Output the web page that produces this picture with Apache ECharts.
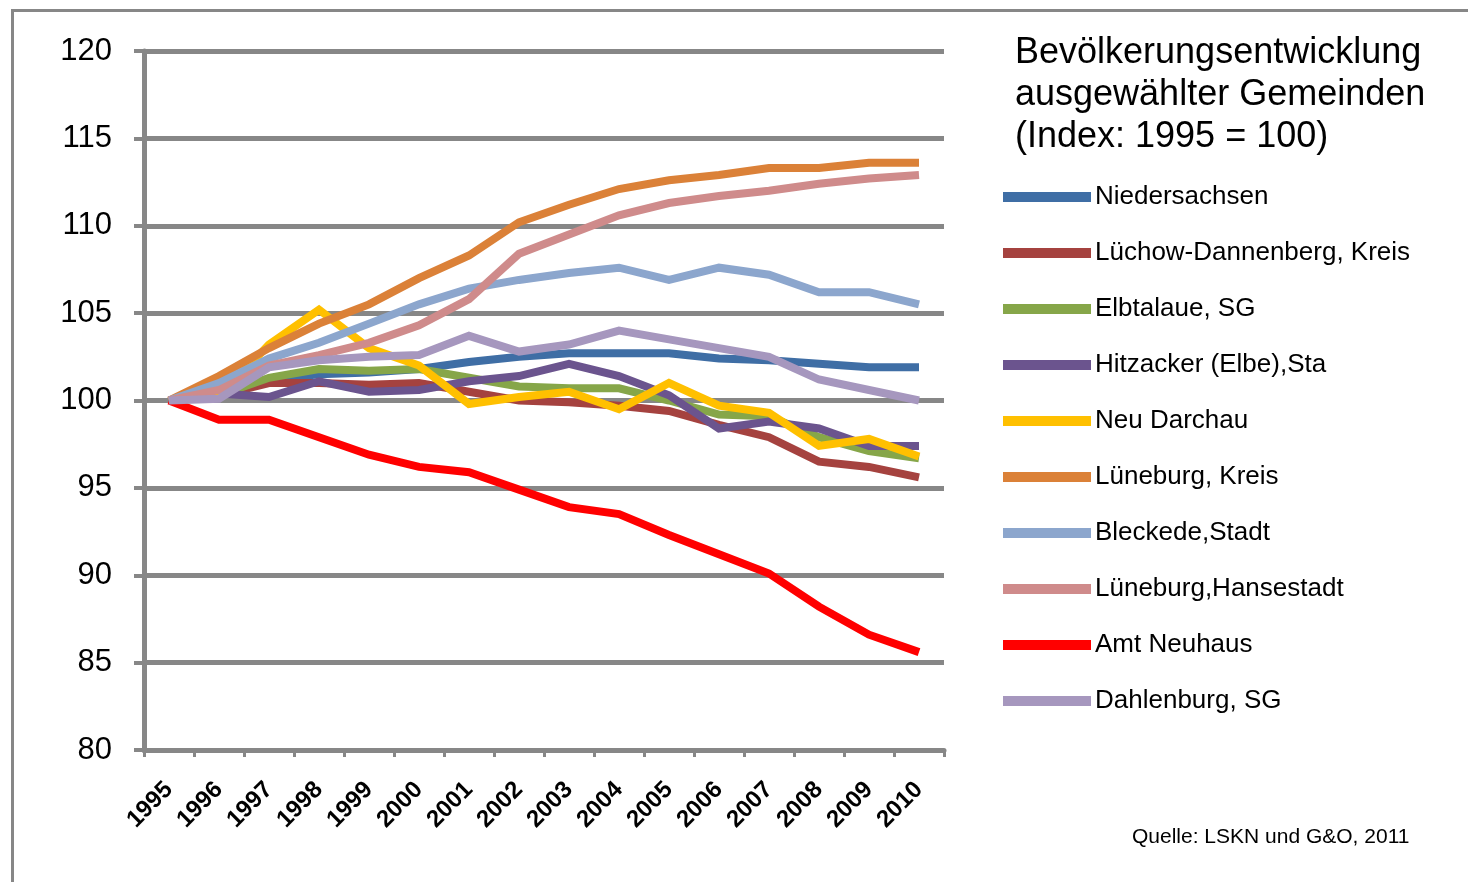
<!DOCTYPE html>
<html><head><meta charset="utf-8">
<script src="https://cdn.jsdelivr.net/npm/echarts@6/dist/echarts.min.js"></script>
<style>html,body{margin:0;padding:0;background:#fff}#c{width:1468px;height:882px}</style>
</head><body><div id="c"></div>
<script>
const years = ['1995','1996','1997','1998','1999','2000','2001','2002','2003','2004','2005','2006','2007','2008','2009','2010'];
const yTicks = [80, 85, 90, 95, 100, 105, 110, 115, 120];
const niedersachsen = [100,100.5,101.2,101.5,101.6,101.8,102.2,102.5,102.7,102.7,102.7,102.4,102.3,102.1,101.9,101.9];
const luechowDannenberg = [100,100.3,101.0,101.0,100.9,101.0,100.5,100.0,99.9,99.7,99.4,98.6,97.9,96.5,96.2,95.6];
const elbtalaue = [100,100.3,101.3,101.8,101.7,101.8,101.3,100.8,100.7,100.7,100.0,99.2,99.1,97.9,97.1,96.7];
const hitzacker = [100,100.4,100.2,101.1,100.5,100.6,101.1,101.4,102.1,101.4,100.3,98.4,98.8,98.4,97.4,97.4];
const neuDarchau = [100,100.2,103.2,105.2,103.0,102.0,99.8,100.2,100.5,99.5,101.0,99.7,99.3,97.4,97.8,96.8];
const lueneburgKreis = [100,101.4,103.0,104.4,105.5,107.0,108.3,110.2,111.2,112.1,112.6,112.9,113.3,113.3,113.6,113.6];
const bleckede = [100,101.0,102.4,103.3,104.4,105.5,106.4,106.9,107.3,107.6,106.9,107.6,107.2,106.2,106.2,105.5];
const lueneburgHansestadt = [100,100.6,102.0,102.6,103.3,104.3,105.8,108.4,109.5,110.6,111.3,111.7,112.0,112.4,112.7,112.9];
const amtNeuhaus = [100,98.9,98.9,97.9,96.9,96.2,95.9,94.9,93.9,93.5,92.3,91.2,90.1,88.2,86.6,85.6];
const dahlenburg = [100,100.1,101.9,102.3,102.5,102.6,103.7,102.8,103.2,104.0,103.5,103.0,102.5,101.2,100.6,100.0];

const seriesNames = ['Niedersachsen','Lüchow-Dannenberg, Kreis','Elbtalaue, SG','Hitzacker (Elbe),Sta','Neu Darchau','Lüneburg, Kreis','Bleckede,Stadt','Lüneburg,Hansestadt','Amt Neuhaus','Dahlenburg, SG'];
const seriesData = [niedersachsen,luechowDannenberg,elbtalaue,hitzacker,neuDarchau,lueneburgKreis,bleckede,lueneburgHansestadt,amtNeuhaus,dahlenburg];
const colors = ['#3F6EA5','#A5423F','#86A649','#6B548E','#FFC000','#DB8138','#8CA6CD','#CF8B8B','#FF0000','#A697BE'];

const FONT = 'Liberation Sans, Arial, sans-serif';
const gridColor = '#878787';

const chart = echarts.init(document.getElementById('c'), null, {renderer:'canvas'});
chart.setOption({
  animation: false,
  backgroundColor: '#fff',
  color: colors,
  textStyle: {fontFamily: FONT},
  title: {
    text: 'Bevölkerungsentwicklung\nausgewählter Gemeinden\n(Index: 1995 = 100)',
    left: 1010, top: 27,
    textStyle: {fontFamily: FONT, fontSize: 36, fontWeight: 'normal', color: '#000', lineHeight: 42}
  },
  legend: {
    orient: 'vertical', left: 1003, top: 184, padding: 0,
    icon: 'rect', itemWidth: 88, itemHeight: 10, itemGap: 30,
    data: seriesNames,
    textStyle: {fontFamily: FONT, fontSize: 26, color: '#000', padding: [0,0,0,-1], lineHeight: 26}
  },
  grid: {left: 144, right: 524, top: 51, bottom: 132, containLabel: false},
  xAxis: {
    type: 'category', data: years, boundaryGap: true,
    axisLine: {lineStyle: {color: gridColor, width: 5}},
    axisTick: {show: true, length: 7, lineStyle: {color: gridColor, width: 3}},
    axisLabel: {rotate: 45, fontSize: 24, fontWeight: 'bold', color: '#000', margin: 36, fontFamily: FONT}
  },
  yAxis: {
    type: 'value', min: yTicks[0], max: yTicks[yTicks.length-1], interval: 5,
    axisLine: {show: true, lineStyle: {color: gridColor, width: 5}},
    axisTick: {show: true, length: 10, lineStyle: {color: gridColor, width: 4}},
    axisLabel: {fontSize: 31, color: '#000', margin: 32, fontFamily: FONT},
    splitLine: {show: true, lineStyle: {color: gridColor, width: 5}}
  },
  series: seriesNames.map((n, i) => ({
    name: n, type: 'line', data: seriesData[i],
    symbol: 'none', lineStyle: {width: 8, color: colors[i], join: 'miter'},
    itemStyle: {color: colors[i]}
  })),
  graphic: [
    {type: 'rect', left: 10, top: 8, shape: {width: 1470, height: 890}, style: {fill: 'none', stroke: gridColor, lineWidth: 3}, silent: true},
    {type: 'text', left: 1132, top: 827, style: {text: 'Quelle: LSKN und G&O, 2011', font: '21px ' + FONT, fill: '#000'}}
  ]
});
</script></body></html>
